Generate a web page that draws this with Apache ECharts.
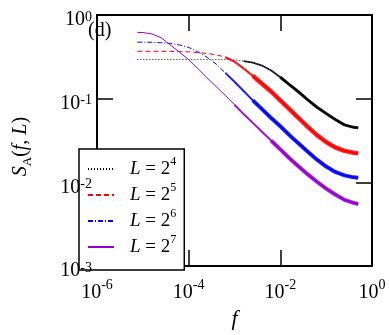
<!DOCTYPE html>
<html><head><meta charset="utf-8">
<script src="https://cdn.jsdelivr.net/npm/echarts@6/dist/echarts.min.js"></script>
<style>html,body{margin:0;padding:0;background:#fff}#c{width:389px;height:335px}</style>
</head><body><div id="c"></div>
<script>
// frequency samples (x)
const freq = [7.6e-6, 1e-5, 1.58e-5, 2.51e-5, 3.98e-5, 6.31e-5, 1e-4, 1.58e-4, 2.51e-4, 3.98e-4,
  6.31e-4, 1e-3, 1.58e-3, 2.51e-3, 3.98e-3, 6.31e-3, 1e-2, 0.0158, 0.0251, 0.0398,
  0.0631, 0.1, 0.158, 0.251, 0.398, 0.5];
// S_A(f, L) for L = 2^4 .. 2^7
const sL4 = [0.2944, 0.2944, 0.2944, 0.2944, 0.2944, 0.2944, 0.2944, 0.2944, 0.2944, 0.2944,
  0.2940, 0.2905, 0.2813, 0.2701, 0.2491, 0.2177, 0.1803, 0.1472, 0.1202, 0.0969,
  0.0791, 0.0664, 0.0565, 0.0487, 0.0455, 0.0449];
const sL5 = [0.3684, 0.3684, 0.3684, 0.3684, 0.3680, 0.3654, 0.3625, 0.3566, 0.3471, 0.3352,
  0.3133, 0.2775, 0.2298, 0.1877, 0.1512, 0.1219, 0.0956, 0.0750, 0.0588, 0.0461,
  0.0367, 0.03037, 0.02617, 0.02381, 0.02257, 0.02226];
const sL6 = [0.4735, 0.4735, 0.4722, 0.4659, 0.4571, 0.4391, 0.4105, 0.3635, 0.3133, 0.2594,
  0.2035, 0.1596, 0.1235, 0.0956, 0.0750, 0.0588, 0.0468, 0.0367, 0.02916, 0.02318,
  0.01868, 0.01547, 0.01333, 0.01213, 0.01149, 0.01134];
const sL7 = [0.620, 0.617, 0.594, 0.535, 0.439, 0.359, 0.293, 0.2298, 0.1778, 0.1395,
  0.1094, 0.0847, 0.0655, 0.0514, 0.0403, 0.0316, 0.0248, 0.01945, 0.01547, 0.01246,
  0.01018, 0.00843, 0.00717, 0.00618, 0.00570, 0.00552];
const seriesNames = ['L = 2^4', 'L = 2^5', 'L = 2^6', 'L = 2^7'];
const seriesExps = [4, 5, 6, 7];
const xRange = [1e-6, 1];
const yRange = [1e-3, 1];

const FONT = 'Liberation Serif';
const allS = [sL4, sL5, sL6, sL7];
const colors = ['#000000', '#ff0000', '#0000ff', '#9400d3'];
const dashes = [[1, 2], [5, 3], [5, 2, 1, 2], 'solid'];
// noisy high-frequency part drawn as thicker band
const bandFrom = [[12, 16], [10, 13], [10, 13], [11, 15]];
const bandW = [[1.8, 3], [2.2, 4.5], [2, 4], [2, 4]];

const pairs = s => freq.map((f, i) => [f, s[i]]);
const series = [];
allS.forEach((s, k) => {
  series.push({
    name: seriesNames[k], type: 'line', data: pairs(s), showSymbol: false, symbol: 'none',
    smooth: false, lineStyle: { color: colors[k], width: 1, type: dashes[k] },
    itemStyle: { color: colors[k] }, z: 2
  });
});
allS.forEach((s, k) => {
  bandFrom[k].forEach((from, j) => {
    series.push({
      name: 'band' + k + '_' + j, type: 'line', data: pairs(s).slice(from), showSymbol: false,
      symbol: 'none', lineStyle: { color: colors[k], width: bandW[k][j], type: 'solid', opacity: 0.85 },
      z: 3
    });
  });
});

const expLabel = v => '{b|10}{s|' + Math.round(Math.log10(v)) + '}';
const xLabelRich = {
  b: { fontSize: 20, fontFamily: FONT, color: '#000', lineHeight: 30 },
  s: { fontSize: 14, fontFamily: FONT, color: '#000', lineHeight: 11, verticalAlign: 'top' }
};
const yLabelRich = {
  b: { fontSize: 20, fontFamily: FONT, color: '#000', lineHeight: 30, padding: [10, 0, 0, 0] },
  s: { fontSize: 14, fontFamily: FONT, color: '#000', lineHeight: 11, verticalAlign: 'top', padding: [10, 0, 0, 0] }
};
const frameLine = { show: true, lineStyle: { color: '#000', width: 2 } };
const tick = { show: true, inside: true, length: 16, lineStyle: { color: '#000', width: 1.5 } };

const chart = echarts.init(document.getElementById('c'), null, { renderer: 'canvas' });
chart.setOption({
  animation: false,
  backgroundColor: '#fff',
  grid: { left: 79, right: 17, top: 14, bottom: 65, containLabel: false },
  xAxis: [{
    type: 'log', logBase: 10, min: xRange[0], max: xRange[1], interval: 2,
    axisLine: frameLine, axisTick: tick, splitLine: { show: false }, minorTick: { show: false },
    axisLabel: { formatter: expLabel, rich: xLabelRich, margin: 12, hideOverlap: false },
    name: 'f', nameLocation: 'middle', nameGap: 37,
    nameTextStyle: { fontFamily: FONT, fontStyle: 'italic', fontSize: 22, color: '#000' }
  }, {
    type: 'log', logBase: 10, min: xRange[0], max: xRange[1], interval: 2, position: 'top',
    axisLine: frameLine, axisTick: tick, splitLine: { show: false }, axisLabel: { show: false }
  }],
  yAxis: [{
    type: 'log', logBase: 10, min: yRange[0], max: yRange[1], interval: 1, z: 10,
    axisLine: { show: false }, axisTick: { show: false }, splitLine: { show: false }, minorTick: { show: false },
    axisLabel: { formatter: expLabel, rich: yLabelRich, margin: 5, hideOverlap: false },
    name: '{i|S}{sub|A}({i|f}, {i|L})', nameLocation: 'middle', nameRotate: 90, nameGap: 63,
    nameTextStyle: {
      fontFamily: FONT, fontSize: 20, color: '#000', lineHeight: 26, padding: [0, 12, 0, 0],
      rich: {
        i: { fontFamily: FONT, fontStyle: 'italic', fontSize: 20, lineHeight: 26, color: '#000' },
        sub: { fontFamily: FONT, fontSize: 13, lineHeight: 12, verticalAlign: 'bottom', color: '#000' }
      }
    }
  }, {
    type: 'log', logBase: 10, min: yRange[0], max: yRange[1], interval: 1, position: 'right',
    axisLine: frameLine, axisTick: tick, splitLine: { show: false }, axisLabel: { show: false }
  }, {
    type: 'log', logBase: 10, min: yRange[0], max: yRange[1], interval: 1, position: 'left', offset: 0,
    axisLine: frameLine, axisTick: tick, splitLine: { show: false }, axisLabel: { show: false }
  }],
  legend: {
    data: seriesNames, orient: 'vertical', left: 79, bottom: 65,
    padding: [7, 8, 10, 8], itemGap: 0, itemWidth: 26, itemHeight: 14,
    backgroundColor: '#fff', borderColor: '#000', borderWidth: 1.5, borderRadius: 0,
    itemStyle: { opacity: 0, borderWidth: 0 },
    formatter: name => '{i|L} = 2{s|' + seriesExps[seriesNames.indexOf(name)] + '}',
    textStyle: {
      fontFamily: FONT, fontSize: 19, color: '#000', lineHeight: 26,
      rich: {
        i: { fontFamily: FONT, fontStyle: 'italic', fontSize: 19, lineHeight: 26, padding: [0, 0, 0, 11], color: '#000' },
        s: { fontFamily: FONT, fontSize: 12, lineHeight: 9, verticalAlign: 'top', color: '#000' }
      }
    }
  },
  graphic: [{
    type: 'text', x: 88, y: 21, z: 10,
    style: { text: '(d)', fontFamily: FONT, fontSize: 20, fill: '#000', textVerticalAlign: 'top' }
  }],
  series: series
});
</script>
</body></html>
